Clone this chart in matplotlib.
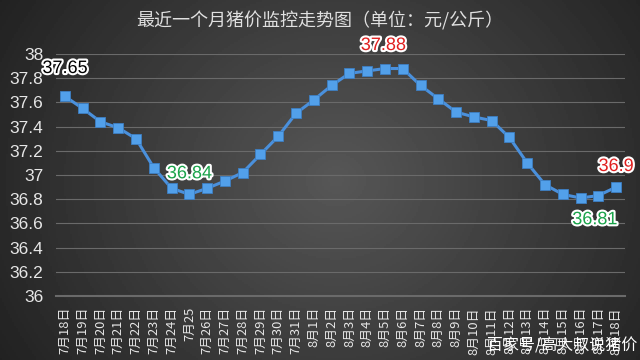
import matplotlib
matplotlib.use("Agg")
import matplotlib.pyplot as plt
import matplotlib.patheffects as pe
import numpy as np

plt.rcParams['font.family'] = ['Liberation Sans', 'Noto Sans CJK SC', 'DejaVu Sans']

# dates on x axis
dates = ['7月18日', '7月19日', '7月20日', '7月21日', '7月22日', '7月23日', '7月24日', '7月25',
         '7月26日', '7月27日', '7月28日', '7月29日', '7月30日', '7月31日',
         '8月1日', '8月2日', '8月3日', '8月4日', '8月5日', '8月6日', '8月7日', '8月8日',
         '8月9日', '8月10日', '8月11日', '8月12日', '8月13日', '8月14日', '8月15日',
         '8月16日', '8月17日', '8月18日']
# prix (yuan/kg)
prices = [37.65, 37.55, 37.44, 37.39, 37.30, 37.06, 36.89, 36.84,
          36.89, 36.95, 37.02, 37.17, 37.32, 37.51,
          37.62, 37.74, 37.84, 37.86, 37.88, 37.88, 37.74, 37.63,
          37.52, 37.48, 37.45, 37.31, 37.10, 36.92, 36.84,
          36.81, 36.83, 36.90]
yticks = [36, 36.2, 36.4, 36.6, 36.8, 37, 37.2, 37.4, 37.6, 37.8, 38]
ytick_labels = ['36', '36.2', '36.4', '36.6', '36.8', '37', '37.2', '37.4', '37.6', '37.8', '38']

fig = plt.figure(figsize=(6.4, 3.6), dpi=100)

# fond dégradé sombre
bg = fig.add_axes([0, 0, 1, 1], zorder=-10)
xx = np.linspace(-1, 1, 320)
yy = np.linspace(-1, 1, 180)
X, Y = np.meshgrid(xx, yy)
d = np.sqrt(((X - 0.05) / 1.0) ** 2 + (Y / 1.6) ** 2)
shade = 0.34 - 0.17 * d
bg.imshow(shade, cmap='gray', vmin=0, vmax=1, aspect='auto', extent=[0, 1, 0, 1])
bg.axis('off')

ax = fig.add_axes([56 / 640, 1 - 296 / 360, (625 - 56) / 640, (296 - 54) / 360])
ax.patch.set_alpha(0)
x = np.arange(len(dates))
ax.plot(x, prices, color='#4a90dc', lw=2.2, marker='s', ms=7,
        markerfacecolor='#52a0ea', markeredgecolor='#3d7fc4', markeredgewidth=0.6, zorder=3)

ax.set_xlim(-0.5, len(dates) - 0.5)
ax.set_ylim(36, 38)
ax.set_yticks(yticks)
ax.set_yticklabels(ytick_labels, fontsize=12.5, color='#e6e6e6')
ax.set_xticks(x)
ax.set_xticklabels(dates, rotation=90, fontsize=9.3, color='#e6e6e6',
                   family=['Noto Sans CJK SC', 'DejaVu Sans'])
ax.tick_params(axis='both', length=0, pad=9)
ax.tick_params(axis='x', pad=8)
ax.grid(axis='y', color='#6a6a6a', lw=0.8)
for s in ['top', 'right', 'left']:
    ax.spines[s].set_visible(False)
ax.spines['bottom'].set_color('#6a6a6a')
ax.spines['bottom'].set_linewidth(1.5)
ax.set_axisbelow(True)

outline = [pe.withStroke(linewidth=3, foreground='white')]
ax.text(0, 37.88, '37.65', color='black', fontsize=13, ha='center', va='center',
        path_effects=outline, zorder=5)
ax.text(17.9, 38.07, '37.88', color='#e02020', fontsize=13, ha='center', va='center',
        path_effects=outline, zorder=5, clip_on=False)
ax.text(7, 37.01, '36.84', color='#1aa34a', fontsize=13, ha='center', va='center',
        path_effects=outline, zorder=5)
ax.text(29.8, 36.63, '36.81', color='#1aa34a', fontsize=13, ha='center', va='center',
        path_effects=outline, zorder=5)
ax.text(31, 37.07, '36.9', color='#e02020', fontsize=13, ha='center', va='center',
        path_effects=outline, zorder=5)

fig.text(0.5, 1 - 21 / 360, '最近一个月猪价监控走势图（单位：元/公斤）', color='#e0e0e0',
         fontsize=13, ha='center', va='center', fontweight='medium',
         family=['Noto Sans CJK SC', 'DejaVu Sans'])
fig.text(0.995, 1 - 346 / 360, '百家号/高大叔说猪价', color='white', fontsize=11.5,
         ha='right', va='center', family=['Noto Sans CJK SC', 'DejaVu Sans'])

fig.savefig('out.png', dpi=100)
